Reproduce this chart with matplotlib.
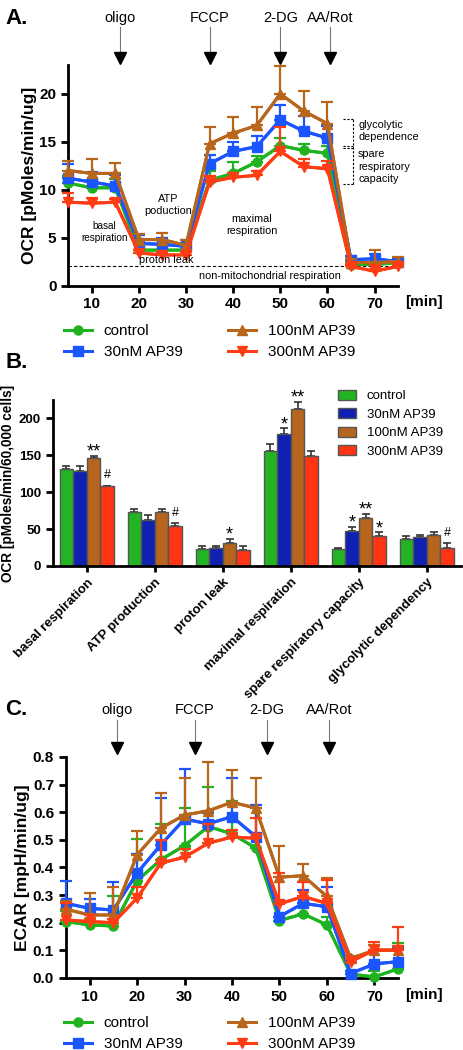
import numpy as np
import matplotlib
matplotlib.use('Agg')
import matplotlib.pyplot as plt
from matplotlib.transforms import blended_transform_factory
from matplotlib.patches import Patch

plt.rcParams['font.family'] = ['Liberation Sans', 'DejaVu Sans']

# ---- data ----
time_min = [5, 10, 15, 20, 25, 30, 35, 40, 45, 50, 55, 60, 65, 70, 75]
groups = ['control', '30nM AP39', '100nM AP39', '300nM AP39']
injections = ['oligo', 'FCCP', '2-DG', 'AA/Rot']
ocr_injection_t = [16, 35, 50, 60.5]
ecar_injection_t = [15.7, 32.2, 47.3, 60.5]

# panel A: OCR [pMoles/min/ug]
ocr_control = [10.7, 10.2, 10.2, 3.7, 3.7, 3.7, 11.0, 11.7, 12.9, 14.6, 14.1, 13.8, 2.2, 2.2, 2.4]
ocr_control_err = [0.7, 0.8, 0.9, 0.5, 0.5, 0.5, 1.0, 1.2, 0.6, 0.8, 0.7, 0.8, 0.3, 0.3, 0.3]
ocr_30 = [11.2, 10.8, 10.4, 4.4, 4.3, 4.1, 12.7, 14.0, 14.5, 17.3, 16.1, 15.4, 2.7, 2.8, 2.5]
ocr_30_err = [1.5, 1.0, 1.1, 0.9, 0.7, 0.7, 0.9, 1.0, 1.1, 1.5, 1.6, 1.2, 0.4, 0.5, 0.4]
ocr_100 = [12.0, 11.7, 11.7, 4.8, 4.8, 4.2, 14.8, 15.9, 16.7, 20.0, 18.2, 16.9, 2.4, 2.4, 2.5]
ocr_100_err = [1.0, 1.5, 1.1, 0.6, 0.7, 0.6, 1.7, 1.7, 1.9, 2.9, 2.1, 2.3, 0.4, 1.3, 0.5]
ocr_300 = [8.7, 8.6, 8.7, 3.4, 3.2, 3.2, 10.8, 11.3, 11.5, 14.0, 12.4, 12.2, 2.0, 1.5, 2.0]
ocr_300_err = [1.0, 0.5, 0.3, 0.3, 0.3, 0.3, 0.6, 0.4, 0.5, 2.5, 0.8, 0.8, 0.3, 0.6, 0.3]

# panel B: OCR [pMoles/min/60,000 cells]
categories = ['basal respiration', 'ATP production', 'proton leak',
              'maximal respiration', 'spare respiratory capacity', 'glycolytic dependency']
bar_control = [132, 73.6, 23.6, 156, 23.2, 36]
bar_control_err = [3, 3, 3.6, 10, 1.8, 5]
bar_30 = [129, 62.7, 24, 178.5, 48, 38.6]
bar_30_err = [7, 6, 3.6, 8, 5.4, 2.7]
bar_100 = [146, 72.6, 31, 212.5, 65, 42]
bar_100_err = [3, 4.5, 5.4, 10, 6, 4]
bar_300 = [108, 54.5, 21.8, 149, 40, 24]
bar_300_err = [1, 3.6, 5.4, 7, 5.4, 6.8]
sig_control = ['', '', '', '', '', '']
sig_30 = ['', '', '', '*', '*', '']
sig_100 = ['**', '', '*', '**', '**', '']
sig_300 = ['#', '#', '', '', '*', '#']

# panel C: ECAR [mpH/min/ug]
ecar_control = [0.204, 0.192, 0.188, 0.352, 0.428, 0.479, 0.548, 0.522, 0.470, 0.208, 0.232, 0.192, 0.014, 0.004, 0.033]
ecar_control_err = [0.04, 0.02, 0.11, 0.15, 0.13, 0.135, 0.145, 0.12, 0.145, 0.07, 0.06, 0.03, 0.01, 0.02, 0.095]
ecar_30 = [0.27, 0.252, 0.246, 0.38, 0.482, 0.575, 0.558, 0.584, 0.512, 0.222, 0.27, 0.258, 0.016, 0.051, 0.059]
ecar_30_err = [0.08, 0.035, 0.1, 0.07, 0.17, 0.18, 0.04, 0.14, 0.115, 0.06, 0.05, 0.07, 0.01, 0.05, 0.05]
ecar_100 = [0.249, 0.228, 0.228, 0.446, 0.542, 0.59, 0.605, 0.636, 0.615, 0.365, 0.37, 0.295, 0.071, 0.1, 0.1]
ecar_100_err = [0.03, 0.08, 0.1, 0.085, 0.127, 0.135, 0.175, 0.118, 0.11, 0.113, 0.043, 0.066, 0.01, 0.02, 0.015]
ecar_300 = [0.21, 0.204, 0.2, 0.289, 0.416, 0.437, 0.488, 0.51, 0.506, 0.268, 0.295, 0.27, 0.059, 0.101, 0.101]
ecar_300_err = [0.06, 0.025, 0.015, 0.04, 0.085, 0.03, 0.07, 0.027, 0.073, 0.112, 0.052, 0.085, 0.01, 0.03, 0.085]

line_colors = ['#1fb41f', '#1a55ff', '#b8661c', '#ff3c14']
bar_colors = ['#22b422', '#1020b0', '#b5651d', '#ff3414']
markers = ['o', 's', '^', 'v']
draw_order = [2, 3, 1, 0]

fig = plt.figure(figsize=(4.64, 10.5), dpi=100)


def style_axes(ax):
    for s in ['top', 'right']:
        ax.spines[s].set_visible(False)
    for s in ['left', 'bottom']:
        ax.spines[s].set_linewidth(2)
    ax.tick_params(width=2, length=5, labelsize=11)
    for lab in ax.get_xticklabels() + ax.get_yticklabels():
        lab.set_fontweight('bold')


def time_panel(ax, means, errs, inj_t, text_y, shaft_top, tip_y):
    t = np.array(time_min)
    handles = [None] * 4
    for i in draw_order:
        m = np.array(means[i])
        e = np.array(errs[i])
        ax.errorbar(t, m, yerr=[np.zeros_like(e), e], color=line_colors[i],
                    lw=2.2, elinewidth=1.6, capsize=4, capthick=1.6, clip_on=False, zorder=3 + i)
        h, = ax.plot(t, m, color=line_colors[i], lw=2.2, marker=markers[i],
                     markersize=6.5, clip_on=False, zorder=3 + i)
        handles[i] = h
    ax.set_xlim(5, 75)
    ax.set_xticks([10, 20, 30, 40, 50, 60, 70])
    style_axes(ax)
    ax.text(1.02, -0.075, '[min]', transform=ax.transAxes, fontsize=11,
            fontweight='bold', va='center', ha='left')
    tr = blended_transform_factory(ax.transData, fig.transFigure)
    for name, x in zip(injections, inj_t):
        ax.plot([x, x], [shaft_top, tip_y], color='#777777', lw=0.8,
                transform=tr, clip_on=False)
        ax.plot([x], [tip_y + 0.004], marker='v', color='black', markersize=8,
                transform=tr, clip_on=False)
        ax.text(x, text_y, name, transform=tr, ha='center', va='center', fontsize=10.5)
    return handles


def line_legend(handles, top):
    fig.legend(handles, groups, loc='upper left', bbox_to_anchor=(0.138, top),
               ncol=2, frameon=False, fontsize=11, handlelength=1.8,
               handletextpad=0.8, columnspacing=3.0, labelspacing=0.45,
               borderpad=0, borderaxespad=0)


# ---- panel A ----
axA = fig.add_axes([0.147, 0.728, 0.711, 0.210])
hA = time_panel(axA, [ocr_control, ocr_30, ocr_100, ocr_300],
                [ocr_control_err, ocr_30_err, ocr_100_err, ocr_300_err],
                ocr_injection_t, 0.983, 0.974, 0.941)
axA.set_ylim(0, 23)
axA.set_yticks([0, 5, 10, 15, 20])
for lab in axA.get_yticklabels():
    lab.set_fontweight('bold')
axA.set_ylabel('OCR [pMoles/min/ug]', fontsize=12.5, fontweight='bold', labelpad=2)
axA.axhline(2, ls='--', lw=0.8, color='black', zorder=1, dashes=(3, 2))
small = 7.8
axA.text(12.7, 5.6, 'basal\nrespiration', ha='center', va='center', fontsize=7.2)
axA.text(26.3, 8.4, 'ATP\npoduction', ha='center', va='center', fontsize=small)
axA.text(25.8, 2.7, 'proton leak', ha='center', va='center', fontsize=small, zorder=10)
axA.text(44, 6.3, 'maximal\nrespiration', ha='center', va='center', fontsize=small)
axA.text(47.7, 1.0, 'non-mitochondrial respiration', ha='center', va='center', fontsize=small)
# bracket on the right
bk = dict(color='black', lw=0.8, ls='--', dashes=(2, 1.5), clip_on=False)
axA.plot([63.3, 65.4], [17.4, 17.4], **bk)
axA.plot([63.3, 65.4], [14.6, 14.6], **bk)
axA.plot([63.3, 65.4], [14.4, 14.4], **bk)
axA.plot([63.3, 65.4], [10.6, 10.6], **bk)
axA.plot([65.4, 65.4], [10.6, 17.4], **bk)
axA.text(66.5, 16.1, 'glycolytic\ndependence', ha='left', va='center',
         fontsize=small, linespacing=1.3, clip_on=False)
axA.text(66.5, 12.4, 'spare\nrespiratory\ncapacity', ha='left', va='center',
         fontsize=small, linespacing=1.3, clip_on=False)
line_legend(hA, 0.691)
fig.text(0.035, 0.982, 'A.', fontsize=16, fontweight='bold', ha='center', va='center')

# ---- panel B ----
axB = fig.add_axes([0.114, 0.461, 0.879, 0.158])
xg = np.arange(len(categories))
offsets = [-0.3, -0.1, 0.1, 0.3]
bar_vals = [bar_control, bar_30, bar_100, bar_300]
bar_errs = [bar_control_err, bar_30_err, bar_100_err, bar_300_err]
sigs = [sig_control, sig_30, sig_100, sig_300]
for i in range(4):
    v = np.array(bar_vals[i])
    e = np.array(bar_errs[i])
    axB.bar(xg + offsets[i], v, width=0.2, color=bar_colors[i], edgecolor='#555555',
            linewidth=1, label=groups[i], zorder=2)
    axB.errorbar(xg + offsets[i], v, yerr=[np.zeros_like(e), e], fmt='none',
                 ecolor='#333333', elinewidth=1.2, capsize=3, capthick=1.2, zorder=1)
    for j, s in enumerate(sigs[i]):
        if s:
            top = v[j] + e[j]
            if s == '#':
                axB.text(xg[j] + offsets[i], top + 14, s, ha='center', va='center', fontsize=9)
            else:
                axB.text(xg[j] + offsets[i], top - 1, s, ha='center', va='baseline', fontsize=13)
axB.set_xlim(-0.5, 5.5)
axB.set_ylim(0, 225)
axB.set_yticks([0, 50, 100, 150, 200])
axB.set_xticks(xg)
axB.set_xticklabels(categories, rotation=45, ha='right', rotation_mode='anchor')
style_axes(axB)
axB.tick_params(axis='y', labelsize=9.5)
axB.tick_params(axis='x', labelsize=9.5, length=4)
for lab in axB.get_xticklabels() + axB.get_yticklabels():
    lab.set_fontweight('bold')
axB.set_ylabel('OCR [pMoles/min/60,000 cells]', fontsize=9.8, fontweight='bold', labelpad=3)
legB = [Patch(facecolor=bar_colors[i], edgecolor='#555555', label=groups[i]) for i in range(4)]
fig.legend(handles=legB, loc='upper left', bbox_to_anchor=(0.728, 0.629), frameon=False,
           fontsize=9.5, handlelength=1.4, handleheight=0.8, handletextpad=0.8,
           labelspacing=0.45, borderpad=0, borderaxespad=0)
fig.text(0.035, 0.655, 'B.', fontsize=16, fontweight='bold', ha='center', va='center')

# ---- panel C ----
axC = fig.add_axes([0.142, 0.0686, 0.716, 0.2105])
hC = time_panel(axC, [ecar_control, ecar_30, ecar_100, ecar_300],
                [ecar_control_err, ecar_30_err, ecar_100_err, ecar_300_err],
                ecar_injection_t, 0.324, 0.314, 0.284)
axC.set_ylim(0, 0.8)
axC.set_yticks(np.arange(0, 0.81, 0.1))
axC.set_yticklabels(['%.1f' % v for v in np.arange(0, 0.81, 0.1)], fontweight='bold')
axC.set_ylabel('ECAR [mpH/min/ug]', fontsize=12.5, fontweight='bold', labelpad=2)
line_legend(hC, 0.032)
fig.text(0.035, 0.324, 'C.', fontsize=16, fontweight='bold', ha='center', va='center')

fig.savefig('out.png', dpi=100)
